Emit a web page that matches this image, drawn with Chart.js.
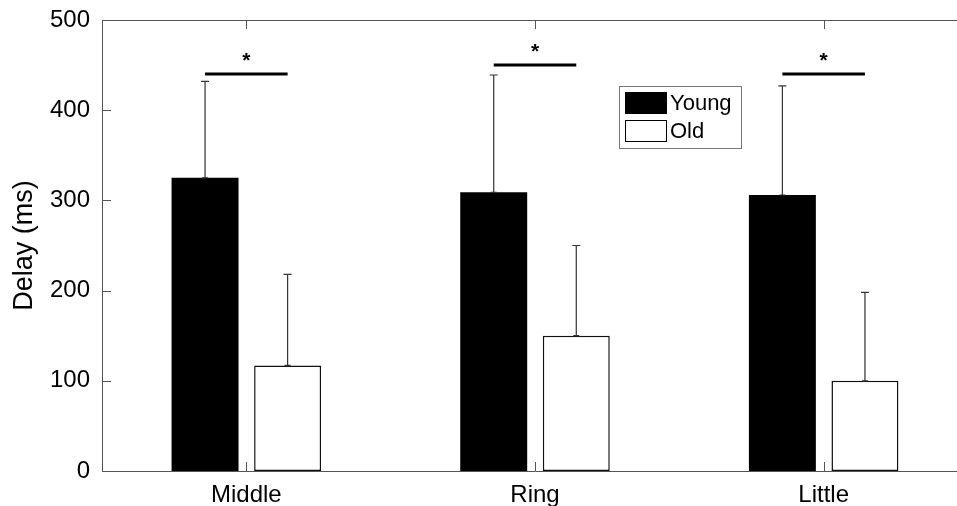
<!DOCTYPE html>
<html lang="en">
<head>
  <meta charset="UTF-8">
  <title>Delay by finger</title>
  <script src="https://cdn.jsdelivr.net/npm/chart.js"></script>
  <style>
    html, body {
      margin: 0;
      padding: 0;
      background: #fff;
      overflow: hidden;
    }
    canvas { display: block; }
  </style>
</head>
<body>
  <canvas id="delayChart" width="970" height="506"></canvas>

  <script>
    // values
    const fingers = ['Middle', 'Ring', 'Little'];
    const youngMean = [325, 309, 306];
    const oldMean = [117, 150, 100];
    const youngSd = [107, 130, 121];
    const oldSd = [101, 100, 98];
    const sigLevel = [440, 450, 440];
    const yTicks = [0, 100, 200, 300, 400, 500];

    const AXIS = '#555';
    const FONT = '"Liberation Sans", Arial, sans-serif';

    // error bars, significance marks, inward ticks, top border, legend
    const extras = {
      id: 'extras',
      afterDatasetsDraw(chart) {
        const ctx = chart.ctx;
        const area = chart.chartArea;
        const x = chart.scales.x;
        const y = chart.scales.y;
        const sds = [youngSd, oldSd];

        ctx.save();

        // error bars (upper only)
        ctx.strokeStyle = '#333';
        ctx.lineWidth = 1.2;
        chart.data.datasets.forEach((ds, di) => {
          const meta = chart.getDatasetMeta(di);
          meta.data.forEach((bar, i) => {
            const top = y.getPixelForValue(ds.data[i] + sds[di][i]);
            const base = y.getPixelForValue(ds.data[i]);
            ctx.beginPath();
            ctx.moveTo(bar.x, base);
            ctx.lineTo(bar.x, top);
            ctx.moveTo(bar.x - 4, top);
            ctx.lineTo(bar.x + 4, top);
            ctx.moveTo(bar.x - 3, base);
            ctx.lineTo(bar.x + 3, base);
            ctx.stroke();
          });
        });

        // significance lines and stars
        const m0 = chart.getDatasetMeta(0);
        const m1 = chart.getDatasetMeta(1);
        ctx.strokeStyle = '#000';
        ctx.fillStyle = '#000';
        ctx.lineWidth = 3;
        ctx.font = 'bold 21px ' + FONT;
        ctx.textAlign = 'center';
        ctx.textBaseline = 'middle';
        sigLevel.forEach((lv, i) => {
          const py = y.getPixelForValue(lv);
          const x0 = m0.data[i].x;
          const x1 = m1.data[i].x;
          ctx.beginPath();
          ctx.moveTo(x0, py);
          ctx.lineTo(x1, py);
          ctx.stroke();
          ctx.fillText('*', (x0 + x1) / 2, py - 13);
        });

        // axis box top line
        ctx.strokeStyle = AXIS;
        ctx.lineWidth = 1;
        ctx.beginPath();
        ctx.moveTo(area.left, area.top + 0.5);
        ctx.lineTo(area.right, area.top + 0.5);
        ctx.stroke();

        // inward ticks
        ctx.beginPath();
        yTicks.forEach(v => {
          const py = Math.round(y.getPixelForValue(v)) + 0.5;
          ctx.moveTo(area.left, py);
          ctx.lineTo(area.left + 9, py);
        });
        fingers.forEach((f, i) => {
          const px = Math.round(x.getPixelForValue(i)) + 0.5;
          ctx.moveTo(px, area.bottom);
          ctx.lineTo(px, area.bottom - 9);
          ctx.moveTo(px, area.top);
          ctx.lineTo(px, area.top + 9);
        });
        ctx.stroke();

        // legend box
        const lx = 619, ly = 86, lw = 122, lh = 62;
        ctx.strokeStyle = '#777';
        ctx.lineWidth = 1;
        ctx.strokeRect(lx + 0.5, ly + 0.5, lw, lh);
        ctx.font = '22px ' + FONT;
        ctx.textAlign = 'left';
        ctx.textBaseline = 'middle';
        chart.data.datasets.forEach((ds, di) => {
          const ry = ly + 6 + di * 28;
          ctx.fillStyle = ds.backgroundColor;
          ctx.fillRect(lx + 6, ry, 42, 22);
          ctx.strokeStyle = '#000';
          ctx.lineWidth = 1;
          ctx.strokeRect(lx + 6.5, ry + 0.5, 41, 21);
          ctx.fillStyle = '#000';
          ctx.fillText(ds.label, lx + 51, ry + 12);
        });

        ctx.restore();
      }
    };

    new Chart(document.getElementById('delayChart'), {
      type: 'bar',
      data: {
        labels: fingers,
        datasets: [
          {
            label: 'Young',
            data: youngMean,
            backgroundColor: '#000',
            borderColor: '#000',
            borderWidth: 0,
            categoryPercentage: 0.572,
            barPercentage: 0.811
          },
          {
            label: 'Old',
            data: oldMean,
            backgroundColor: '#fff',
            borderColor: '#111',
            borderWidth: 1.5,
            borderSkipped: false,
            categoryPercentage: 0.572,
            barPercentage: 0.811
          }
        ]
      },
      options: {
        responsive: false,
        animation: false,
        layout: { padding: { top: 20, right: 2, left: 0, bottom: 0 } },
        plugins: {
          legend: { display: false },
          tooltip: { enabled: false }
        },
        scales: {
          x: {
            offset: true,
            grid: { display: false, drawTicks: false },
            border: { display: true, color: AXIS, width: 1 },
            ticks: {
              color: '#000',
              padding: 10,
              font: { family: FONT, size: 24 }
            },
            afterFit: s => {
              s.height = 35;
              s.paddingLeft = 0;
              s.paddingRight = 0;
            }
          },
          y: {
            min: 0,
            max: 500,
            grid: { display: false, drawTicks: false },
            border: { display: true, color: AXIS, width: 1 },
            ticks: {
              stepSize: 100,
              color: '#000',
              padding: 12,
              font: { family: FONT, size: 24 }
            },
            title: {
              display: true,
              text: 'Delay (ms)',
              color: '#000',
              padding: { top: 8, bottom: 0 },
              font: { family: FONT, size: 27 }
            },
            afterFit: s => {
              s.width = 102;
              s.paddingTop = 0;
              s.paddingBottom = 0;
            }
          }
        }
      },
      plugins: [extras]
    });
  </script>
</body>
</html>
